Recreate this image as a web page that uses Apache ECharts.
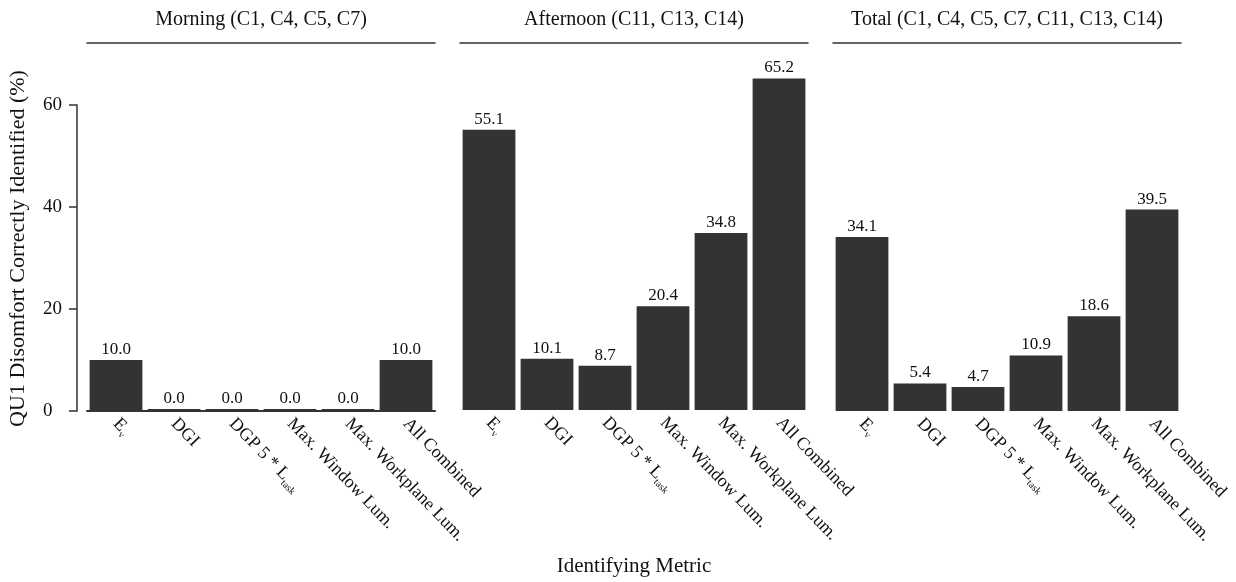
<!DOCTYPE html>
<html><head><meta charset="utf-8">
<script src="https://cdn.jsdelivr.net/npm/echarts@6/dist/echarts.min.js"></script>
<style>html,body{margin:0;padding:0;background:#fff}#c{width:1236px;height:582px}</style>
</head><body><div id="c"></div>
<script>
const categories = ['Ev', 'DGI', 'DGP 5 * Ltask', 'Max. Window Lum.', 'Max. Workplane Lum.', 'All Combined'];
const panelTitles = ['Morning (C1, C4, C5, C7)', 'Afternoon (C11, C13, C14)', 'Total (C1, C4, C5, C7, C11, C13, C14)'];
const morning = [10.0, 0.0, 0.0, 0.0, 0.0, 10.0];
const afternoon = [55.1, 10.1, 8.7, 20.4, 34.8, 65.2];
const total = [34.1, 5.4, 4.7, 10.9, 18.6, 39.5];
const yTicks = [0, 20, 40, 60];
const yTitle = 'QU1 Disomfort Correctly Identified (%)';
const xTitle = 'Identifying Metric';

const panels = [morning, afternoon, total];
const FONT = '"Liberation Serif", "DejaVu Serif", serif';
const TXT = '#111111';
const BAR = '#333333';
const lefts = [87, 460, 833];
const W = 348, TOP = 54, BOTTOM = 171;
const YMAX = 70;

function labelFmt(v) {
  if (v === 'Ev') return '{n|E}{s|v}';
  if (v === 'DGP 5 * Ltask') return '{n|DGP 5 * L}{s|task}';
  return '{n|' + v + '}';
}

const grid = [], xAxis = [], yAxis = [], series = [];
panels.forEach((vals, i) => {
  grid.push({left: lefts[i], width: W, top: TOP, bottom: BOTTOM, containLabel: false});
  xAxis.push({
    type: 'category', gridIndex: i, data: categories, position: 'bottom',
    axisLine: {show: i === 0, lineStyle: {color: BAR, width: 2}}, axisTick: {show: false},
    axisLabel: {
      interval: 0, rotate: -46, margin: 10, color: TXT, fontFamily: FONT, fontSize: 18,
      formatter: labelFmt,
      rich: {
        n: {fontFamily: FONT, fontSize: 18, color: TXT, lineHeight: 22},
        s: {fontFamily: FONT, fontSize: 10, color: TXT, lineHeight: 22, verticalAlign: 'bottom', padding: [10, 0, 0, 0]}
      }
    },
    name: i === 1 ? xTitle : '', nameLocation: 'middle', nameGap: 146,
    nameTextStyle: {fontFamily: FONT, fontSize: 21, color: TXT}
  });
  xAxis.push({
    type: 'category', gridIndex: i, data: categories, position: 'top', offset: 11,
    axisLine: {show: true, lineStyle: {color: '#333', width: 1.5}},
    axisTick: {show: false}, axisLabel: {show: false},
    name: panelTitles[i], nameLocation: 'middle', nameGap: 13,
    nameTextStyle: {fontFamily: FONT, fontSize: 20, color: TXT}
  });
  yAxis.push({
    type: 'value', gridIndex: i, min: 0, max: YMAX,
    axisLine: {show: false}, axisTick: {show: false}, axisLabel: {show: false}, splitLine: {show: false},
    name: i === 0 ? yTitle : '', nameLocation: 'middle', nameGap: 58, nameRotate: 90,
    nameTextStyle: {fontFamily: FONT, fontSize: 22, color: TXT, padding: [0, 32, 0, 0]}
  });
  series.push({
    type: 'bar', xAxisIndex: 2 * i, yAxisIndex: i, data: vals,
    barCategoryGap: '9%', barMinHeight: 2,
    itemStyle: {color: BAR},
    label: {show: true, position: 'top', distance: 2, formatter: p => p.value.toFixed(1),
      fontFamily: FONT, fontSize: 17, color: TXT},
    silent: true, animation: false
  });
});
// auxiliary y axis (0..60) drawn beside the first panel
grid.push({left: 77, width: 1, top: TOP + (YMAX - yTicks[yTicks.length - 1]) * (582 - TOP - BOTTOM) / YMAX, bottom: BOTTOM});
xAxis.push({type: 'value', gridIndex: 3, show: false});
yAxis.push({
  type: 'value', gridIndex: 3, min: yTicks[0], max: yTicks[yTicks.length - 1], interval: 20,
  axisLine: {show: true, lineStyle: {color: '#333', width: 1.5}},
  axisTick: {show: true, length: 8, lineStyle: {color: '#333', width: 1.5}},
  axisLabel: {color: TXT, fontFamily: FONT, fontSize: 19, margin: 34, align: 'left'},
  splitLine: {show: false}
});

const chart = echarts.init(document.getElementById('c'), null, {renderer: 'canvas'});
chart.setOption({animation: false, grid, xAxis, yAxis, series});
</script></body></html>
